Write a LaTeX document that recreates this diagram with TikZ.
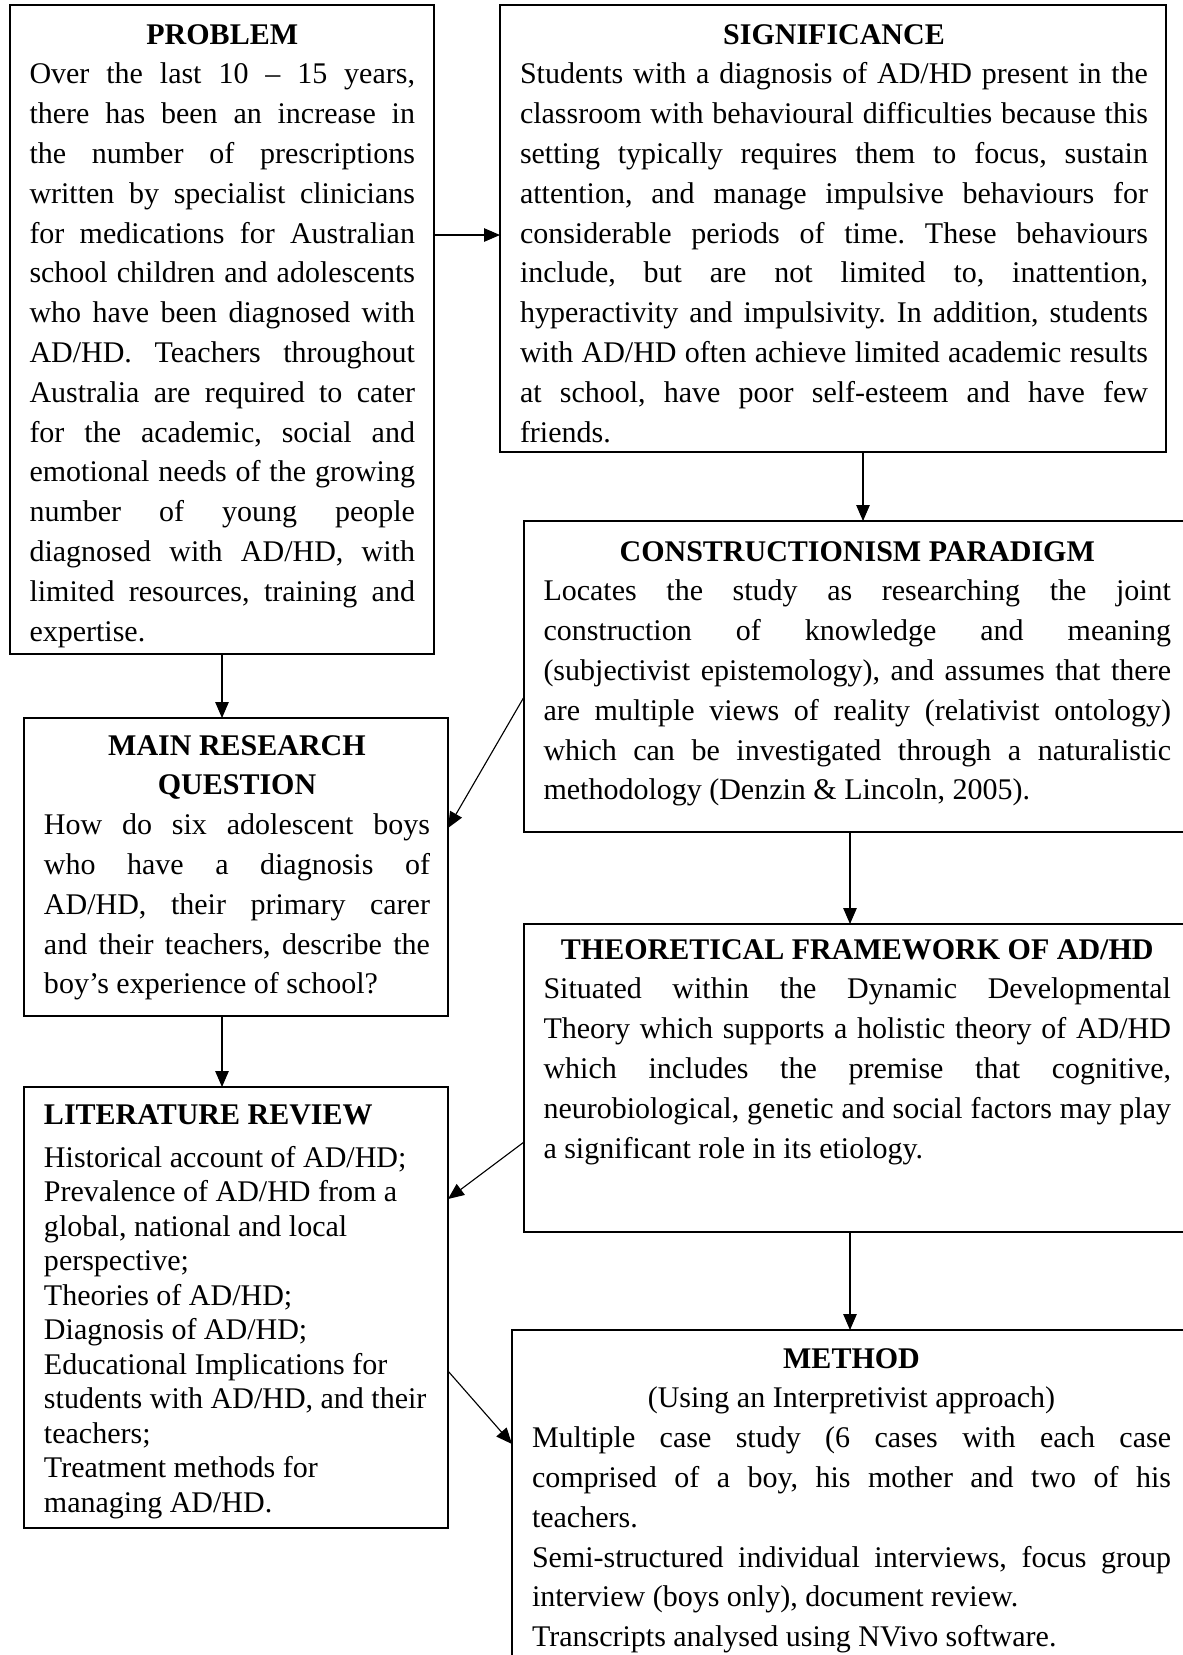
\documentclass[tikz,border=0pt]{standalone}
\usepackage{fontspec}
\setmainfont{Liberation Serif}
\frenchspacing
\usetikzlibrary{arrows.meta,fit}
\newcommand\blk[2]{\vtop{\hsize=#1\relax #2}}
\newcommand\jl[1]{\hbox to\hsize{#1}}
\newcommand\ttl[1]{\hbox to\hsize{\hfil\bfseries #1\hfil}}
\begin{document}
\begin{tikzpicture}[x=0.4pt,y=-0.4pt,
  box/.style={draw, line width=0.55pt, inner sep=0pt, outer sep=0pt},
  txt/.style={inner sep=0pt, outer sep=0pt, anchor=base west, font=\fontsize{12}{15.92}\selectfont},
  littxt/.style={inner sep=0pt, outer sep=0pt, anchor=base west, font=\fontsize{12}{13.8}\selectfont},
  arr/.style={line width=0.45pt, -{Triangle[length=6.4pt,width=5.4pt]}}]
\useasboundingbox (0,0) rectangle (1183,1655);
\clip (0,0) rectangle (1183,1655);
\fill[white] (0,0) rectangle (1183,1655);

% boxes
\node[box, fit={(10,5) (434,654)}] (prob) {};
\node[box, fit={(500,5) (1166,452)}] (sig) {};
\node[box, fit={(524,521) (1192,832)}] (constr) {};
\node[box, fit={(24,718) (448,1016)}] (main) {};
\node[box, fit={(524,924) (1192,1232)}] (theo) {};
\node[box, fit={(24,1087) (448,1528)}] (lit) {};
\node[box, fit={(512,1330) (1192,1670)}] (method) {};

% texts
\node[txt] (probt) at (29.5,44) {\blk{154.2pt}{%
\ttl{PROBLEM}
\jl{Over the last 10 – 15 years,}
\jl{there has been an increase in}
\jl{the number of prescriptions}
\jl{written by specialist clinicians}
\jl{for medications for Australian}
\jl{school children and adolescents}
\jl{who have been diagnosed with}
\jl{AD/HD. Teachers throughout}
\jl{Australia are required to cater}
\jl{for the academic, social and}
\jl{emotional needs of the growing}
\jl{number of young people}
\jl{diagnosed with AD/HD, with}
\jl{limited resources, training and}
\hbox{expertise.}}};

\node[txt] (sigt) at (520,44) {\blk{251.2pt}{%
\ttl{SIGNIFICANCE}
\jl{Students with a diagnosis of AD/HD present in the}
\jl{classroom with behavioural difficulties because this}
\jl{setting typically requires them to focus, sustain}
\jl{attention, and manage impulsive behaviours for}
\jl{considerable periods of time. These behaviours}
\jl{include, but are not limited to, inattention,}
\jl{hyperactivity and impulsivity. In addition, students}
\jl{with AD/HD often achieve limited academic results}
\jl{at school, have poor self-esteem and have few}
\hbox{friends.}}};

\node[txt] (constrt) at (543.5,561) {\blk{251pt}{%
\ttl{CONSTRUCTIONISM PARADIGM}
\jl{Locates the study as researching the joint}
\jl{construction of knowledge and meaning}
\jl{(subjectivist epistemology), and assumes that there}
\jl{are multiple views of reality (relativist ontology)}
\jl{which can be investigated through a naturalistic}
\hbox{methodology (Denzin \& Lincoln, 2005).}}};

\node[txt] (maint) at (44,755) {\blk{154.4pt}{%
\ttl{MAIN RESEARCH}
\ttl{QUESTION}
\jl{How do six adolescent boys}
\jl{who have a diagnosis of}
\jl{AD/HD, their primary carer}
\jl{and their teachers, describe the}
\hbox{boy’s experience of school?}}};

\node[txt] (theot) at (543.5,959) {\blk{251pt}{%
\ttl{THEORETICAL FRAMEWORK OF AD/HD}
\jl{Situated within the Dynamic Developmental}
\jl{Theory which supports a holistic theory of AD/HD}
\jl{which includes the premise that cognitive,}
\jl{neurobiological, genetic and social factors may play}
\hbox{a significant role in its etiology.}}};

\node[littxt] (litt) at (44,1124) {\blk{160pt}{%
\hbox{\bfseries LITERATURE REVIEW}
\vskip 3.4pt
\hbox{Historical account of AD/HD;}
\hbox{Prevalence of AD/HD from a}
\hbox{global, national and local}
\hbox{perspective;}
\hbox{Theories of AD/HD;}
\hbox{Diagnosis of AD/HD;}
\hbox{Educational Implications for}
\hbox{students with AD/HD, and their}
\hbox{teachers;}
\hbox{Treatment methods for}
\hbox{managing AD/HD.}}};

\node[txt] (methodt) at (532,1368) {\blk{255.6pt}{%
\ttl{METHOD}
\hbox to\hsize{\hfil (Using an Interpretivist approach)\hfil}
\jl{Multiple case study (6 cases with each case}
\jl{comprised of a boy, his mother and two of his}
\hbox{teachers.}
\jl{Semi-structured individual interviews, focus group}
\hbox{interview (boys only), document review.}
\hbox{Transcripts analysed using NVivo software.}}};

% connectors
\draw[arr] (prob.east |- 0,235) -- (sig.west |- 0,235);
\draw[arr] (sig.south -| 863,0) -- (constr.north -| 863,0);
\draw[arr] (prob.south -| 222,0) -- (main.north -| 222,0);
\draw[arr] (constr.west |- 0,697) -- (main.east |- 0,828);
\draw[arr] (constr.south -| 850,0) -- (theo.north -| 850,0);
\draw[arr] (main.south -| 222,0) -- (lit.north -| 222,0);
\draw[arr] (theo.west |- 0,1142) -- (lit.east |- 0,1199);
\draw[arr] (theo.south -| 850,0) -- (method.north -| 850,0);
\draw[arr] (lit.east |- 0,1371) -- (method.west |- 0,1444);
\end{tikzpicture}
\end{document}
